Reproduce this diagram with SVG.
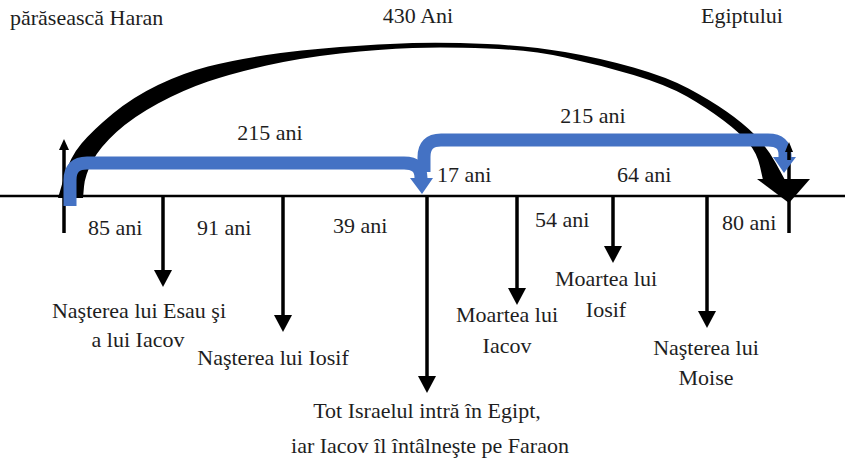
<svg xmlns="http://www.w3.org/2000/svg" width="845" height="465" viewBox="0 0 845 465">
<style>
.t{font-family:'Liberation Serif', serif;font-size:22px;fill:#1e1e1e}
.m{text-anchor:middle}
.ln{stroke:#000;stroke-width:3.5;fill:none}
.hd{fill:#000}
.bl{stroke:#4472C4;stroke-width:13;fill:none}
.bh{fill:#4472C4}
</style>
<rect width="845" height="465" fill="#fff"/>
<g id="connectors">
<line x1="0" y1="196" x2="845" y2="196" stroke="#000" stroke-width="2.5"/>
<g id="tick-left"><line class="ln" x1="64" y1="148" x2="64" y2="233" stroke-width="3"/><polygon class="hd" points="59,150 69,150 64,139"/></g>
<g id="tick-right"><line class="ln" x1="789" y1="150" x2="789" y2="233" stroke-width="3"/></g>
<g id="a1"><line class="ln" x1="163" y1="196" x2="163" y2="272"/><polygon class="hd" points="154,270 172,270 163,287"/></g>
<g id="a2"><line class="ln" x1="283" y1="196" x2="283" y2="317"/><polygon class="hd" points="274,315 292,315 283,332"/></g>
<g id="a3"><line class="ln" x1="427" y1="196" x2="427" y2="378"/><polygon class="hd" points="418,376 436,376 427,393"/></g>
<g id="a4"><line class="ln" x1="517" y1="196" x2="517" y2="290"/><polygon class="hd" points="508,288 526,288 517,305"/></g>
<g id="a5"><line class="ln" x1="613" y1="196" x2="613" y2="248"/><polygon class="hd" points="604,246 622,246 613,263"/></g>
<g id="a6"><line class="ln" x1="707" y1="196" x2="707" y2="313"/><polygon class="hd" points="698,311 716,311 707,328"/></g>
<g id="arc430">
<path class="hd" d="M 58 198 L 64 177.5 Q 70 157 81.5 143.5 Q 93 130 113 113.5 Q 133 97 158 85 Q 183 73 208 66.5 Q 233 60 266.5 55 Q 300 50 340 47 Q 380 44 412.5 43 Q 445 42 487.5 44 Q 530 46 565 52 Q 600 58 633.5 67.5 Q 667 77 688.5 88.5 Q 710 100 726.5 111.5 Q 743 123 755 135 Q 767 147 776 163.5 L 785 180 L 763 180 L 760 166.5 Q 757 153 748.5 143 Q 740 133 723.5 120.5 Q 707 108 687 96.5 Q 667 85 633.5 75 Q 600 65 565 57.5 Q 530 50 487.5 48.5 Q 445 47 412.5 48 Q 380 49 340 53.5 Q 300 58 266.5 65.5 Q 233 73 208 81.5 Q 183 90 158 103.5 Q 133 117 116.5 132 Q 100 147 92.5 161 Q 85 175 84 186.5 L 83 198 Z"/>
<polygon class="hd" points="757,179 810,179 789,203"/>
</g>
<g id="blue1">
<path class="bl" d="M 70 206 V 180 Q 70 163 87 163 H 404 Q 421 163 421 178 V 180"/>
<polygon class="bh" points="410,178 433,178 422,194"/>
</g>
<g id="blue2">
<path class="bl" d="M 424 172 V 157 Q 424 140 441 140 H 768 Q 785 140 785 155 V 158"/>
<polygon class="bh" points="773,157 796,157 784,173"/>
</g>
<g id="tick-right-head"><line class="ln" x1="789" y1="150" x2="789" y2="160" stroke-width="3"/><polygon class="hd" points="785,152 793,152 789,142"/></g>
</g>
<g font-family="Liberation Serif, serif" font-size="22">
<g id="top-labels">
<text class="t" x="10" y="25" font-family="Liberation Serif, serif">părăsească Haran</text>
<text class="t m" x="418" y="23" font-family="Liberation Serif, serif">430 Ani</text>
<text class="t m" x="742" y="23" font-family="Liberation Serif, serif">Egiptului</text>
</g>
<g id="span-labels">
<text class="t m" x="270" y="140">215 ani</text>
<text class="t m" x="593" y="123">215 ani</text>
<text class="t" x="437" y="182">17 ani</text>
<text class="t" x="617" y="182">64 ani</text>
<text class="t" x="88" y="235">85 ani</text>
<text class="t" x="197" y="235">91 ani</text>
<text class="t" x="333" y="233">39 ani</text>
<text class="t" x="535" y="227">54 ani</text>
<text class="t" x="722" y="230">80 ani</text>
</g>
<g id="ev-esau"><text class="t m" x="139" y="318">Naşterea lui Esau şi</text><text class="t m" x="138" y="347">a lui Iacov</text></g>
<g id="ev-iosif"><text class="t m" x="273" y="365">Naşterea lui Iosif</text></g>
<g id="ev-egipt"><text class="t m" x="427" y="418">Tot Israelul intră în Egipt,</text><text class="t m" x="430" y="453">iar Iacov îl întâlneşte  pe Faraon</text></g>
<g id="ev-iacov"><text class="t m" x="507" y="322">Moartea lui</text><text class="t m" x="507" y="353">Iacov</text></g>
<g id="ev-mIosif"><text class="t m" x="606" y="286">Moartea lui</text><text class="t m" x="606" y="317">Iosif</text></g>
<g id="ev-moise"><text class="t m" x="706" y="355">Naşterea lui</text><text class="t m" x="706" y="385">Moise</text></g>
</g>
</svg>
